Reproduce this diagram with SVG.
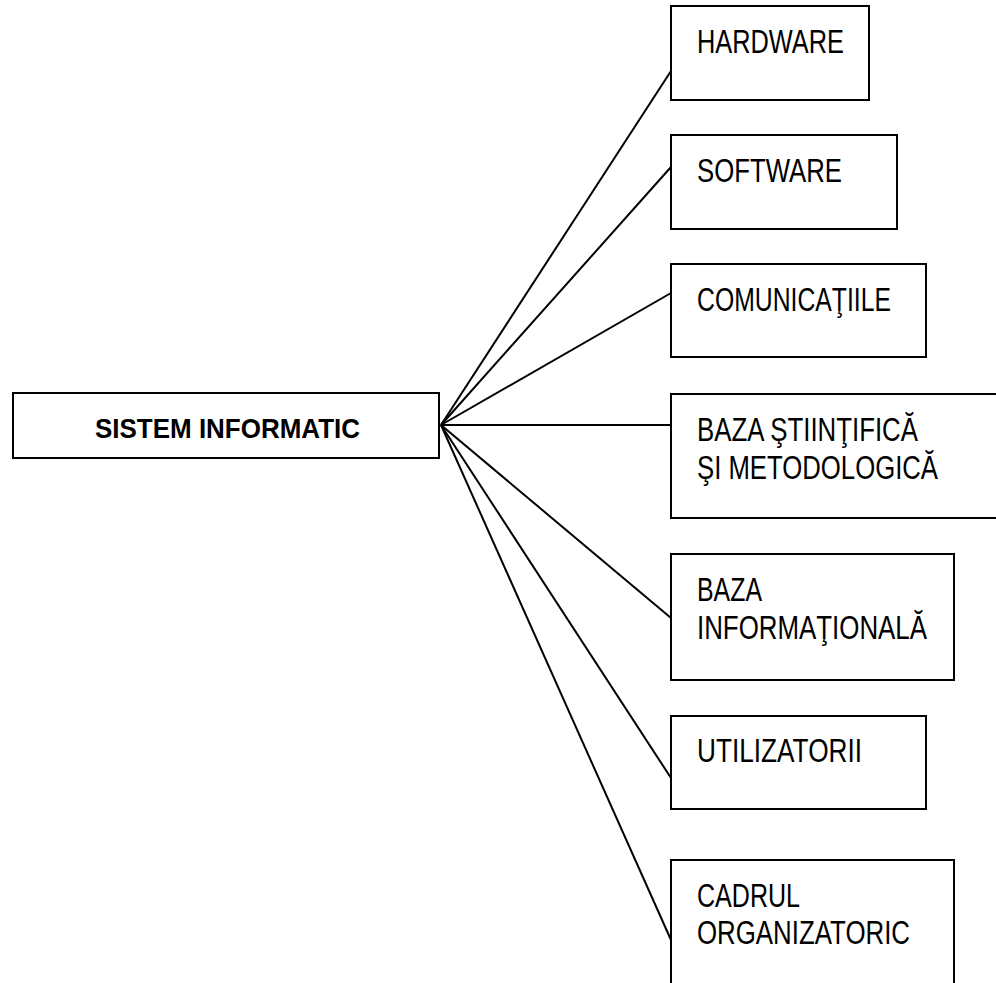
<svg xmlns="http://www.w3.org/2000/svg" width="996" height="983" viewBox="0 0 996 983">
  <style>
    .box { fill: #ffffff; stroke: #000000; stroke-width: 2; }
    .lbl { font-family: "Liberation Sans", Arial, sans-serif; font-size: 33px; fill: #000000; }
    .main { font-family: "Liberation Sans", Arial, sans-serif; font-size: 28px; font-weight: bold; fill: #000000; }
    .link { stroke: #000000; stroke-width: 2; fill: none; }
  </style>
  <rect width="996" height="983" fill="#ffffff"/>

  <!-- connectors fanning out from the central node -->
  <g id="connectors">
    <line class="link" x1="441" y1="425" x2="671" y2="71"/>
    <line class="link" x1="441" y1="425" x2="671" y2="167"/>
    <line class="link" x1="441" y1="425" x2="671" y2="293"/>
    <line class="link" x1="441" y1="425" x2="671" y2="425"/>
    <line class="link" x1="441" y1="425" x2="671" y2="618"/>
    <line class="link" x1="441" y1="425" x2="671" y2="778"/>
    <line class="link" x1="441" y1="425" x2="671" y2="940"/>
  </g>

  <g id="sistem-informatic">
    <rect class="box" x="13" y="393" width="426" height="65"/>
    <text class="main" x="95" y="438" textLength="265" lengthAdjust="spacingAndGlyphs">SISTEM INFORMATIC</text>
  </g>

  <g id="hardware">
    <rect class="box" x="671" y="6" width="198" height="94"/>
    <text class="lbl" x="697" y="53" textLength="147" lengthAdjust="spacingAndGlyphs">HARDWARE</text>
  </g>

  <g id="software">
    <rect class="box" x="671" y="135" width="226" height="94"/>
    <text class="lbl" x="697" y="182" textLength="145" lengthAdjust="spacingAndGlyphs">SOFTWARE</text>
  </g>

  <g id="comunicatiile">
    <rect class="box" x="671" y="264" width="255" height="93"/>
    <text class="lbl" x="697" y="311" textLength="194" lengthAdjust="spacingAndGlyphs">COMUNICAŢIILE</text>
  </g>

  <g id="baza-stiintifica">
    <rect class="box" x="671" y="394" width="340" height="124"/>
    <text class="lbl" x="697" y="441" textLength="221" lengthAdjust="spacingAndGlyphs">BAZA ŞTIINŢIFICĂ</text>
    <text class="lbl" x="697" y="479" textLength="241" lengthAdjust="spacingAndGlyphs">ŞI METODOLOGICĂ</text>
  </g>

  <g id="baza-informationala">
    <rect class="box" x="671" y="554" width="283" height="126"/>
    <text class="lbl" x="697" y="601" textLength="65" lengthAdjust="spacingAndGlyphs">BAZA</text>
    <text class="lbl" x="697" y="639" textLength="230" lengthAdjust="spacingAndGlyphs">INFORMAŢIONALĂ</text>
  </g>

  <g id="utilizatorii">
    <rect class="box" x="671" y="716" width="255" height="93"/>
    <text class="lbl" x="697" y="762" textLength="165" lengthAdjust="spacingAndGlyphs">UTILIZATORII</text>
  </g>

  <g id="cadrul-organizatoric">
    <rect class="box" x="671" y="860" width="283" height="140"/>
    <text class="lbl" x="697" y="907" textLength="103" lengthAdjust="spacingAndGlyphs">CADRUL</text>
    <text class="lbl" x="697" y="944" textLength="213" lengthAdjust="spacingAndGlyphs">ORGANIZATORIC</text>
  </g>
</svg>
